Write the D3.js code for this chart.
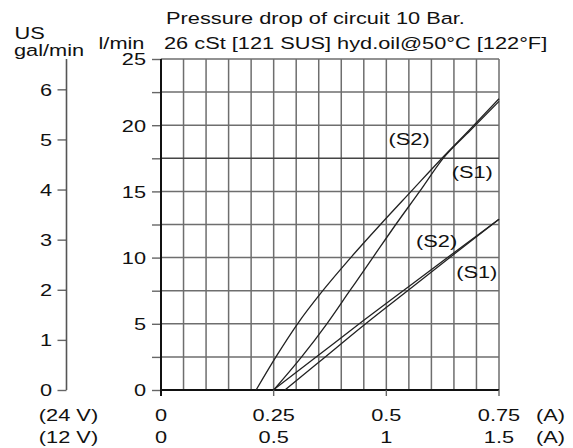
<!DOCTYPE html>
<html>
<head>
<meta charset="utf-8">
<script src="https://cdn.jsdelivr.net/npm/d3@7"></script>
<style>
  html, body { margin: 0; padding: 0; background: #fff; }
  svg { display: block; }
  text { font-family: "Liberation Sans", Arial, sans-serif; fill: #111; }
</style>
</head>
<body>
<svg id="chart" width="573" height="448"></svg>
<script>
// ---- data ----
const titleLines = ["Pressure drop of circuit 10 Bar.", "26 cSt [121 SUS] hyd.oil@50°C [122°F]"];
const flowTicks = [0, 2.5, 5, 7.5, 10, 12.5, 15, 17.5, 20, 22.5, 25];   // l/min
const galTicks = [0, 1, 2, 3, 4, 5, 6];                                  // US gal/min
const amp24Ticks = [0, 0.25, 0.5, 0.75];
const amp12Ticks = [0, 0.5, 1, 1.5];
const gridAmps = d3.range(0, 16).map(i => i * 0.05);

// upper pair
const ampsS2Upper = [0.211, 0.255, 0.303, 0.359, 0.421, 0.487, 0.555, 0.626, 0.686, 0.75];
const flowS2Upper = [0, 2.5, 5, 7.5, 10, 12.5, 15, 17.6, 19.7, 22.0];
const ampsS1Upper = [0.25, 0.312, 0.368, 0.419, 0.47, 0.521, 0.574, 0.626, 0.686, 0.75];
const flowS1Upper = [0, 2.5, 5, 7.5, 10, 12.5, 15, 17.5, 19.6, 21.8];
// lower pair
const ampsS2Lower = [0.249, 0.35, 0.45, 0.55, 0.65, 0.75];
const flowS2Lower = [0, 2.64, 5.26, 7.82, 10.37, 12.9];
const ampsS1Lower = [0.275, 0.35, 0.45, 0.55, 0.65, 0.75];
const flowS1Lower = [0, 2.09, 4.89, 7.57, 10.25, 12.9];

const curveLabels = [
  { text: "(S2)", a: 0.505, q: 18.5 },
  { text: "(S1)", a: 0.645, q: 16.0 },
  { text: "(S2)", a: 0.566, q: 10.8 },
  { text: "(S1)", a: 0.655, q: 8.45 }
];
const LITRES_PER_GAL = 3.785;

// ---- layout ----
const svg = d3.select("#chart");
const FS = 16.5, SX = 1.32;
const pLeft = 161, pRight = 499, pTop = 59, pBottom = 390;

const x24 = d3.scaleLinear().domain([0, 0.75]).range([pLeft, pRight]);
const x12 = d3.scaleLinear().domain([0, 1.5]).range([pLeft, pRight]);
const y = d3.scaleLinear().domain([0, 25]).range([pBottom, pTop]);
const yGal = d3.scaleLinear().domain([0, 25 / LITRES_PER_GAL]).range([pBottom, pTop]);

function txt(x, yy, s, anchor) {
  svg.append("text")
    .attr("transform", `translate(${x},${yy}) scale(${SX},1)`)
    .attr("text-anchor", anchor || "start")
    .attr("font-size", FS)
    .text(s);
}

// grid
const grid = svg.append("g");
grid.selectAll("line.v").data(gridAmps).join("line").attr("class", "v")
  .attr("x1", d => x24(d)).attr("x2", d => x24(d))
  .attr("y1", pTop).attr("y2", pBottom)
  .attr("stroke", "#6e6e6e").attr("stroke-width", 1.5);
grid.selectAll("line.h").data(flowTicks).join("line").attr("class", "h")
  .attr("x1", pLeft).attr("x2", pRight)
  .attr("y1", d => y(d)).attr("y2", d => y(d))
  .attr("stroke", d => d === 17.5 ? "#444" : "#6e6e6e")
  .attr("stroke-width", 1.5);

// l/min axis
const axL = svg.append("g").attr("transform", `translate(${pLeft},0)`)
  .call(d3.axisLeft(y).tickValues(flowTicks).tickSize(9).tickPadding(0)
    .tickFormat(d => d % 5 === 0 ? d : ""));
axL.select(".domain").remove();
axL.selectAll(".tick line").attr("stroke", "#666").attr("stroke-width", 1.4);
axL.selectAll(".tick text")
  .attr("font-size", FS).attr("font-family", null)
  .attr("x", -15 / SX).attr("dy", "0.36em")
  .attr("transform", `scale(${SX},1)`);
svg.append("line").attr("x1", pLeft).attr("x2", pLeft).attr("y1", pTop).attr("y2", pBottom + 6)
  .attr("stroke", "#111").attr("stroke-width", 2);

// gallons axis
const galX = 66.5;
const axG = svg.append("g").attr("transform", `translate(${galX},0)`)
  .call(d3.axisLeft(yGal).tickValues(galTicks).tickSize(9).tickPadding(0)
    .tickFormat(d3.format("d")));
axG.select(".domain").remove();
axG.selectAll(".tick line").attr("stroke", "#666").attr("stroke-width", 1.4);
axG.selectAll(".tick text")
  .attr("font-size", FS).attr("font-family", null)
  .attr("x", -14.5 / SX).attr("dy", "0.36em")
  .attr("transform", `scale(${SX},1)`);
svg.append("line").attr("x1", galX).attr("x2", galX).attr("y1", pTop).attr("y2", pBottom)
  .attr("stroke", "#555").attr("stroke-width", 1.6);

// bottom axis line + ticks
svg.append("line").attr("x1", pLeft).attr("x2", pRight).attr("y1", pBottom).attr("y2", pBottom)
  .attr("stroke", "#111").attr("stroke-width", 2.2);
svg.selectAll("line.bt").data(amp24Ticks.slice(1)).join("line").attr("class", "bt")
  .attr("x1", d => x24(d)).attr("x2", d => x24(d))
  .attr("y1", pBottom).attr("y2", pBottom + 6)
  .attr("stroke", "#666").attr("stroke-width", 1.4);

// bottom labels
amp24Ticks.forEach(d => txt(x24(d), 421, String(d), "middle"));
amp12Ticks.forEach(d => txt(x12(d), 443, String(d), "middle"));
txt(68.5, 421, "(24 V)", "middle");
txt(68.5, 443, "(12 V)", "middle");
txt(536, 421, "(A)", "start");
txt(536, 443, "(A)", "start");

// curves
const line = d3.line().x(d => x24(d[0])).y(d => y(d[1])).curve(d3.curveMonotoneX);
const series = [
  [ampsS2Upper, flowS2Upper],
  [ampsS1Upper, flowS1Upper],
  [ampsS2Lower, flowS2Lower],
  [ampsS1Lower, flowS1Lower]
];
svg.append("g").selectAll("path").data(series).join("path")
  .attr("d", s => line(s[0].map((a, i) => [a, s[1][i]])))
  .attr("fill", "none").attr("stroke", "#222").attr("stroke-width", 1.3);

// curve labels
curveLabels.forEach(l => txt(x24(l.a), y(l.q), l.text, "start"));

// headings
txt(14.5, 39, "US", "start");
txt(14, 55.5, "gal/min", "start");
txt(98.5, 48.5, "l/min", "start");
txt(166, 23.5, titleLines[0], "start");
txt(164, 48.5, titleLines[1], "start");
</script>
</body>
</html>
